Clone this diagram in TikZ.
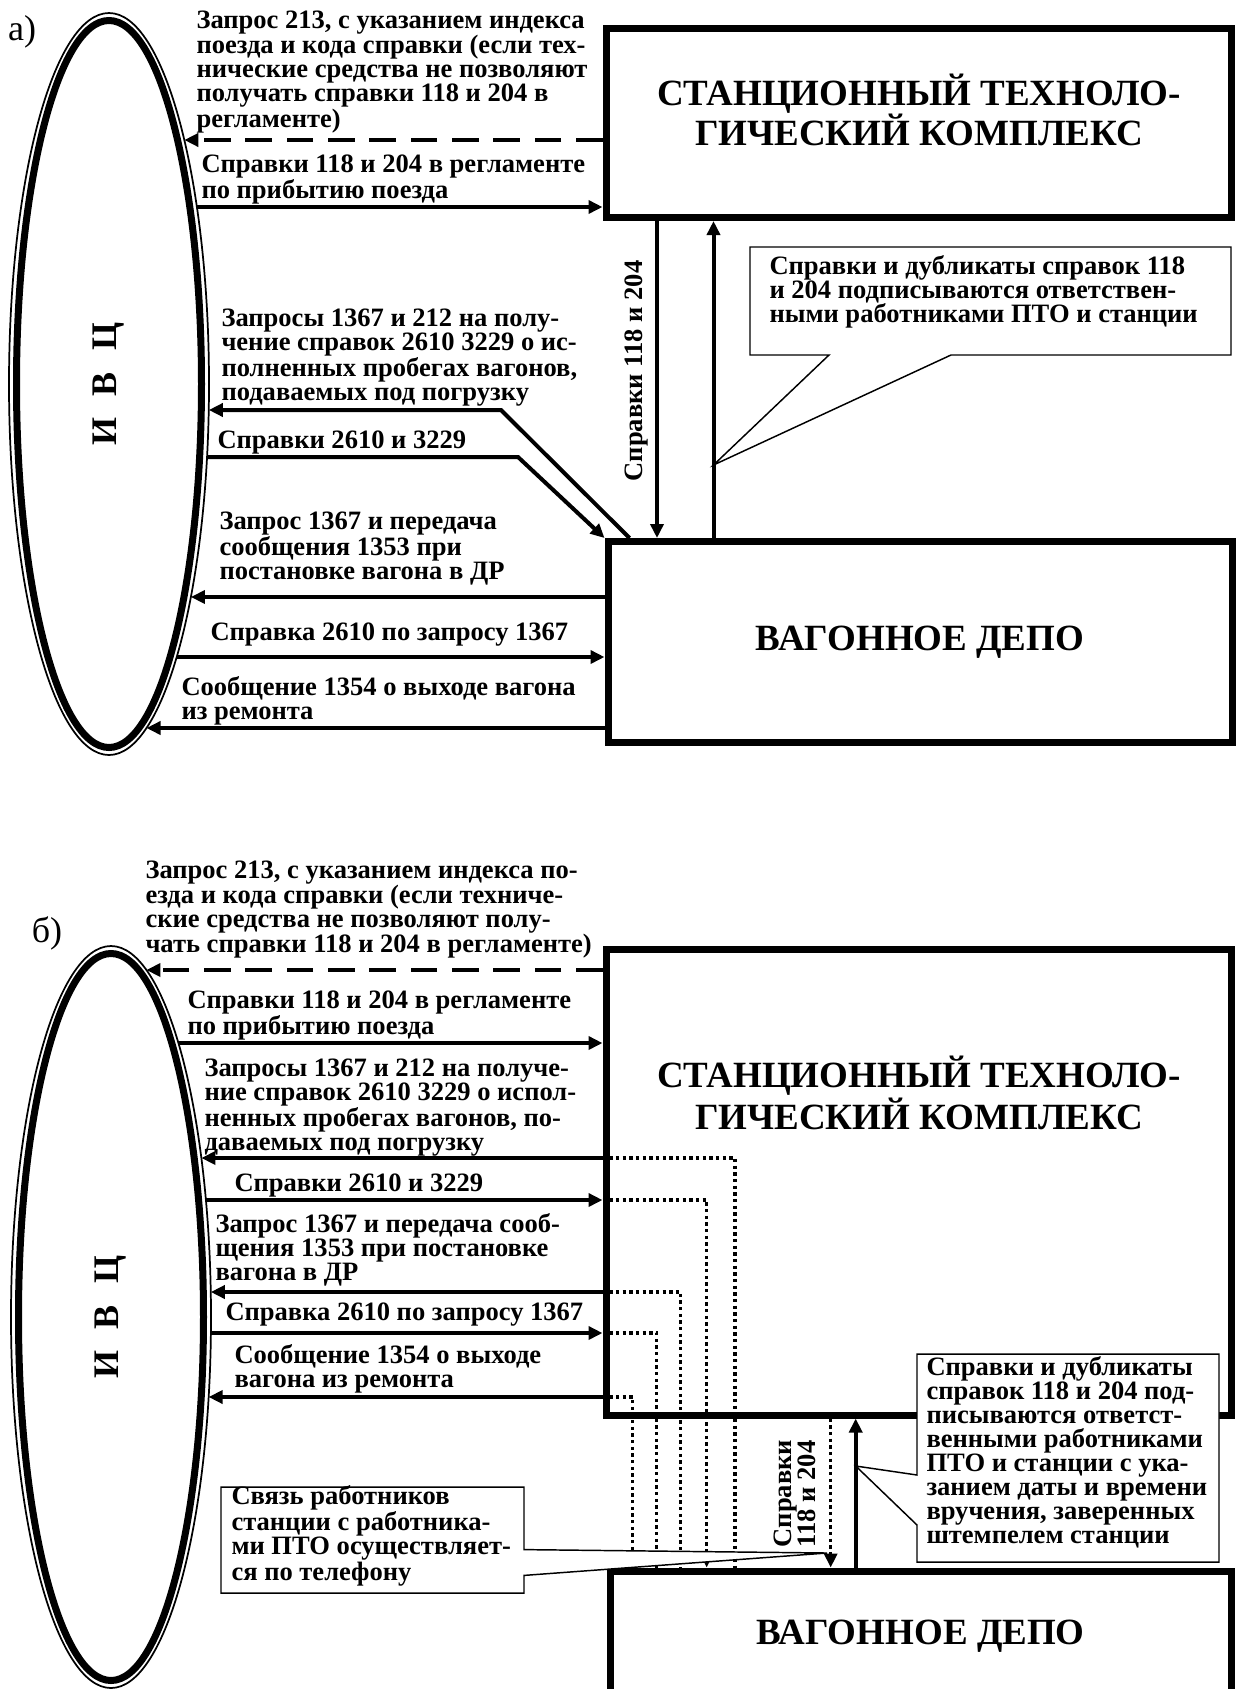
\documentclass[tikz,border=0pt]{standalone}
\usepackage{fontspec}
\setmainfont{Liberation Serif}
\usetikzlibrary{arrows.meta,shapes.geometric}

\tikzset{every picture/.style={line width=0.75pt}}
\tikzset{
  blk/.style={draw, line width=5.25pt, minimum width=468.75pt, inner sep=0pt},
  ivc/.style={draw, ellipse, rotate=90, line width=5.25pt, minimum width=545.25pt, minimum height=138.75pt, inner sep=0pt, font=\bfseries\fontsize{27}{30}\selectfont},
  ttl/.style={align=center, inner sep=0pt, font=\bfseries\fontsize{27.75}{27}\selectfont},
  lbl/.style={anchor=west, align=left, inner sep=0pt, font=\bfseries\fontsize{19.9}{18}\selectfont},
  partlbl/.style={inner sep=0pt, font=\fontsize{27}{27}\selectfont},
  tip/.style={-{Triangle[length=10.5pt,width=9.75pt]}},
  arr/.style={line width=3pt, tip},
  dsh/.style={arr, dash pattern=on 20pt off 11pt},
  dotln/.style={line width=2.5pt, dash pattern=on 2.5pt off 2.5pt},
  note/.style={draw, fill=white, line width=1.1pt},
}

\begin{document}
\begin{tikzpicture}[x=0.75pt,y=0.75pt,yscale=-1,xscale=1]
\useasboundingbox (0,0) rectangle (1237,1689);
\clip (0,0) rectangle (1237,1689);

%%%%%%%%%%%%%%%% a)
\node[partlbl] (capA) at (22,32) {а)};

% IVC ellipse: thick line plus thin outer line
\node[ivc] (ivcA) at (109,384) {И\hspace{0.6em}В\hspace{0.6em}Ц};
\draw[line width=1.3pt] (ivcA.center) ellipse [x radius=100, y radius=371];

% blocks
\node[blk, minimum height=141.75pt] (stkA) at (918.5,123) {};
\node[ttl] (stkAt) at (919,110) {СТАНЦИОННЫЙ ТЕХНОЛО-\\ГИЧЕСКИЙ КОМПЛЕКС};
\node[blk, ttl, minimum width=468pt, minimum height=150.75pt] (depA) at (920,642) {ВАГОННОЕ ДЕПО};

% arrow ends on the ellipse
\coordinate (a1) at (184.3,140);
\coordinate (a2) at (196.9,207);
\coordinate (a3) at (208.8,410);
\coordinate (a4) at (207.0,457);
\coordinate (a5) at (190.9,597);
\coordinate (a6) at (176.7,657);
\coordinate (a7) at (146.5,728);

\draw[dsh] (a1 -| stkA.west) -- (a1);
\draw[arr] (a2) -- (a2 -| stkA.west);
\draw[arr] ([xshift=18.75pt]depA.north west) -- (501,410) -- (a3);
\draw[arr] (a4) -- (518,457) -- (depA.north west);
\draw[arr] (a5 -| depA.west) -- (a5);
\draw[arr] (a6) -- (a6 -| depA.west);
\draw[arr] (a7 -| depA.west) -- (a7);

% callout
\coordinate (vA) at (657,380);
\coordinate (tipA) at (713.5,465);
\draw[note] (750,247) -- (1231,247) -- (1231,355) -- (951,355) -- (tipA) -- (829,355) -- (750,355) -- cycle;
\node[lbl] (noteA) at (769,292) {Справки и дубликаты справок 118\\и 204 подписываются ответствен-\\ными работниками ПТО и станции};

% between the blocks
\draw[arr] (vA |- stkA.south) -- (vA |- depA.north);
\draw[arr] (tipA |- depA.north) -- (tipA |- stkA.south);
\node[lbl, rotate=90, anchor=center] (vAt) at (636,371) {Справки 118 и 204};

% labels
\node[lbl] (la1) at (196,71.6) {Запрос 213, с указанием индекса\\поезда и кода справки (если тех-\\нические средства не позволяют\\получать справки 118 и 204 в\\регламенте)};
\node[lbl] (la2) at (201,179.5) {Справки 118 и 204 в регламенте\\по прибытию поезда};
\node[lbl] (la3) at (221,358) {Запросы 1367 и 212 на полу-\\чение справок 2610 3229 о ис-\\полненных пробегах вагонов,\\подаваемых под погрузку};
\node[lbl] (la4) at (217,442) {Справки 2610 и 3229};
\node[lbl] (la5) at (219,549) {Запрос 1367 и передача\\сообщения 1353 при\\постановке вагона в ДР};
\node[lbl] (la6) at (210,635) {Справка 2610 по запросу 1367};
\node[lbl] (la7) at (181,700.5) {Сообщение 1354 о выходе вагона\\из ремонта};

%%%%%%%%%%%%%%%% b)
\node[partlbl] (capB) at (47,933) {б)};

\node[ivc] (ivcB) at (111,1317) {И\hspace{0.6em}В\hspace{0.6em}Ц};
\draw[line width=1.3pt] (ivcB.center) ellipse [x radius=100, y radius=371];

\node[blk, minimum height=349.125pt] (stkB) at (918.5,1182.25) {};
\node[ttl, font=\bfseries\fontsize{27.75}{31.5}\selectfont] (stkBt) at (919,1093) {СТАНЦИОННЫЙ ТЕХНОЛО-\\ГИЧЕСКИЙ КОМПЛЕКС};
\node[blk, ttl, minimum width=465.75pt, minimum height=97.5pt] (depB) at (920.5,1636) {ВАГОННОЕ ДЕПО};

\coordinate (b1) at (146.4,970);
\coordinate (b2) at (178.4,1043);
\coordinate (b3) at (201.4,1158);
\coordinate (b4) at (205.9,1200);
\coordinate (b5) at (210.8,1292);
\coordinate (b6) at (210.9,1333);
\coordinate (b7) at (208.6,1397);

% telephone links through the station
\coordinate (d3) at (735,1158);
\coordinate (d4) at (706.7,1200);
\coordinate (d5) at (680.7,1292);
\coordinate (d6) at (656.7,1333);
\coordinate (d7) at (632.7,1397);
\draw[dotln] (d3 -| stkB.west) -- (d3) -- (d3 |- depB.north);
\draw[dotln, tip] (d4 -| stkB.west) -- (d4) -- (d4 |- depB.north);
\draw[dotln] (d5 -| stkB.west) -- (d5) -- (d5 |- depB.north);
\draw[dotln] (d6 -| stkB.west) -- (d6) -- (d6 |- depB.north);
\draw[dotln] (d7 -| stkB.west) -- (d7) -- (d7 |- depB.north);

\coordinate (tipC) at (827,1553);
\draw[note] (221,1487) -- (524,1487) -- (524,1549.6) -- (tipC) -- (524,1575.4) -- (524,1593) -- (221,1593) -- cycle;
\node[lbl] (telB) at (231,1536) {Связь работников\\станции с работника-\\ми ПТО осуществляет-\\ся по телефону};

\draw[dsh] (b1 -| stkB.west) -- (b1);
\draw[arr] (b2) -- (b2 -| stkB.west);
\draw[arr] (b3 -| stkB.west) -- (b3);
\draw[arr] (b4) -- (b4 -| stkB.west);
\draw[arr] (b5 -| stkB.west) -- (b5);
\draw[arr] (b6) -- (b6 -| stkB.west);
\draw[arr] (b7 -| stkB.west) -- (b7);

% callout
\coordinate (vB) at (830.7,1490);
\coordinate (tipB) at (855.7,1466);
\draw[note] (917,1354) -- (1219,1354) -- (1219,1562) -- (917,1562) -- (917,1525) -- (tipB) -- (917,1475) -- cycle;
\node[lbl] (noteB) at (926,1452.5) {Справки и дубликаты\\справок 118 и 204 под-\\писываются ответст-\\венными работниками\\ПТО и станции с ука-\\занием даты и времени\\вручения, заверенных\\штемпелем станции};

\draw[dotln, tip] (vB |- stkB.south) -- (vB |- depB.north);
\draw[arr] (tipB |- depB.north) -- (tipB |- stkB.south);
\node[lbl, rotate=90, anchor=center] (vBt) at (795,1493.5) {Справки\\118 и 204};

% labels
\node[lbl] (lb1) at (145,909.5) {Запрос 213, с указанием индекса по-\\езда и кода справки (если техниче-\\ские средства не позволяют полу-\\чать справки 118 и 204 в регламенте)};
\node[lbl] (lb2) at (187,1015) {Справки 118 и 204 в регламенте\\по прибытию поезда};
\node[lbl] (lb3) at (204,1108) {Запросы 1367 и 212 на получе-\\ние справок 2610 3229 о испол-\\ненных пробегах вагонов, по-\\даваемых под погрузку};
\node[lbl] (lb4) at (234,1185) {Справки 2610 и 3229};
\node[lbl] (lb5) at (215,1250) {Запрос 1367 и передача сооб-\\щения 1353 при постановке\\вагона в ДР};
\node[lbl] (lb6) at (225,1315) {Справка 2610 по запросу 1367};
\node[lbl] (lb7) at (234,1368.5) {Сообщение 1354 о выходе\\вагона из ремонта};

\end{tikzpicture}
\end{document}
